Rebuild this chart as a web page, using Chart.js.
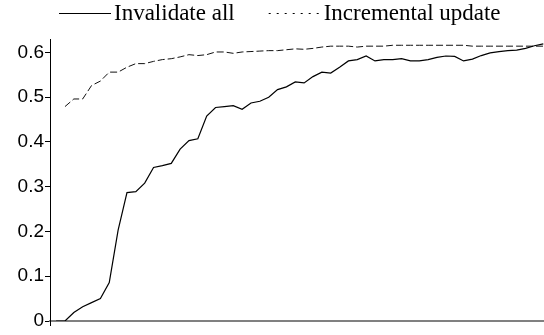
<!DOCTYPE html>
<html>
<head>
<meta charset="utf-8">
<script src="https://cdn.jsdelivr.net/npm/chart.js@4.4.1/dist/chart.umd.min.js"></script>
<style>
  html, body { margin: 0; padding: 0; background: #fff; }
  #wrap { width: 544px; height: 335px; }
</style>
</head>
<body>
<div id="wrap"><canvas id="chart" width="544" height="335"></canvas></div>
<script>
// Run index along the x axis (no labels are shown on this axis)
const runs = [1, 2, 3, 4, 5, 6, 7, 8, 9, 10, 11, 12, 13, 14, 15, 16, 17, 18, 19, 20,
              21, 22, 23, 24, 25, 26, 27, 28, 29, 30, 31, 32, 33, 34, 35, 36, 37, 38, 39, 40,
              41, 42, 43, 44, 45, 46, 47, 48, 49, 50, 51, 52, 53, 54, 55, 56];

const seriesNames = ['Invalidate all', 'Incremental update'];

const invalidateAll = [0, 0, 0.019, 0.032, 0.041, 0.050, 0.086, 0.203, 0.287, 0.289,
                       0.308, 0.343, 0.347, 0.352, 0.384, 0.403, 0.407, 0.458, 0.477, 0.479,
                       0.481, 0.473, 0.487, 0.491, 0.500, 0.517, 0.523, 0.534, 0.532, 0.546,
                       0.556, 0.554, 0.567, 0.581, 0.584, 0.592, 0.581, 0.584, 0.584, 0.586,
                       0.581, 0.581, 0.584, 0.589, 0.592, 0.591, 0.581, 0.585, 0.593, 0.599,
                       0.602, 0.604, 0.605, 0.609, 0.615, 0.619];

const incrementalUpdate = [null, 0.479, 0.496, 0.496, 0.526, 0.536, 0.556, 0.556, 0.567, 0.575,
                           0.575, 0.580, 0.584, 0.586, 0.590, 0.595, 0.593, 0.595, 0.601, 0.601,
                           0.598, 0.601, 0.602, 0.603, 0.604, 0.604, 0.606, 0.608, 0.607, 0.609,
                           0.612, 0.614, 0.614, 0.614, 0.612, 0.614, 0.614, 0.614, 0.616, 0.616,
                           0.616, 0.616, 0.616, 0.616, 0.616, 0.616, 0.616, 0.614, 0.614, 0.614,
                           0.614, 0.614, 0.614, 0.614, 0.614, 0.614];

const yTickValues = [0, 0.1, 0.2, 0.3, 0.4, 0.5, 0.6];
const yTickLabels = ['0', '0.1', '0.2', '0.3', '0.4', '0.5', '0.6'];

const toPoints = (vals) => vals.map((v, i) => ({ x: runs[i], y: v }));

// Key drawn as a line sample followed by its label, in a serif face
const lineKey = {
  id: 'lineKey',
  afterDraw(chart) {
    const ctx = chart.ctx;
    const area = chart.chartArea;
    ctx.save();
    ctx.font = '23px "Liberation Serif", "Times New Roman", serif';
    ctx.fillStyle = '#000';
    ctx.textBaseline = 'alphabetic';
    let x = area.left + 9;
    chart.data.datasets.forEach((ds, i) => {
      const len = 52;
      ctx.beginPath();
      ctx.strokeStyle = '#000';
      ctx.lineWidth = 1;
      ctx.setLineDash(i === 0 ? [] : [2, 6]);
      ctx.moveTo(x, 13.5);
      ctx.lineTo(x + len, 13.5);
      ctx.stroke();
      ctx.setLineDash([]);
      x += len + 3;
      ctx.fillText(ds.label, x, 20);
      x += ctx.measureText(ds.label).width + 34;
    });
    ctx.restore();
  }
};

Chart.defaults.font.family = '"Liberation Sans", Arial, sans-serif';
Chart.defaults.color = '#000';

new Chart(document.getElementById('chart'), {
  type: 'line',
  data: {
    datasets: [
      {
        label: seriesNames[0],
        data: toPoints(invalidateAll),
        borderColor: '#000',
        borderWidth: 1.2,
        pointRadius: 0,
        tension: 0,
        fill: false
      },
      {
        label: seriesNames[1],
        data: toPoints(incrementalUpdate),
        borderColor: '#111',
        borderWidth: 1,
        borderDash: [7, 3],
        pointRadius: 0,
        tension: 0,
        fill: false
      }
    ]
  },
  options: {
    responsive: false,
    animation: false,
    devicePixelRatio: 1,
    layout: { padding: { top: 39, right: 0, bottom: 0, left: 0 } },
    plugins: {
      legend: { display: false },
      tooltip: { enabled: false }
    },
    scales: {
      x: {
        type: 'linear',
        min: 0.31,
        max: 56.08,
        afterBuildTicks(scale) { scale.ticks = [{ value: scale.min }]; },
        afterFit(scale) { scale.height = 14; },
        ticks: { display: false },
        grid: { display: true, drawOnChartArea: false, drawTicks: true, tickLength: 5, color: '#000', lineWidth: 1 },
        border: { display: true, color: '#808080', width: 2 }
      },
      y: {
        min: 0,
        max: 0.63,
        afterBuildTicks(scale) { scale.ticks = yTickValues.map(v => ({ value: v })); },
        afterFit(scale) { scale.width = 50; },
        ticks: {
          padding: 1,
          font: { size: 19 },
          color: '#000',
          callback: (value) => {
            const i = yTickValues.findIndex(t => Math.abs(t - value) < 1e-9);
            return i >= 0 ? yTickLabels[i] : '';
          }
        },
        grid: { display: true, drawOnChartArea: false, drawTicks: true, tickLength: 5, color: '#000', lineWidth: 1 },
        border: { display: true, color: '#000', width: 1 }
      }
    }
  },
  plugins: [lineKey]
});
</script>
</body>
</html>
